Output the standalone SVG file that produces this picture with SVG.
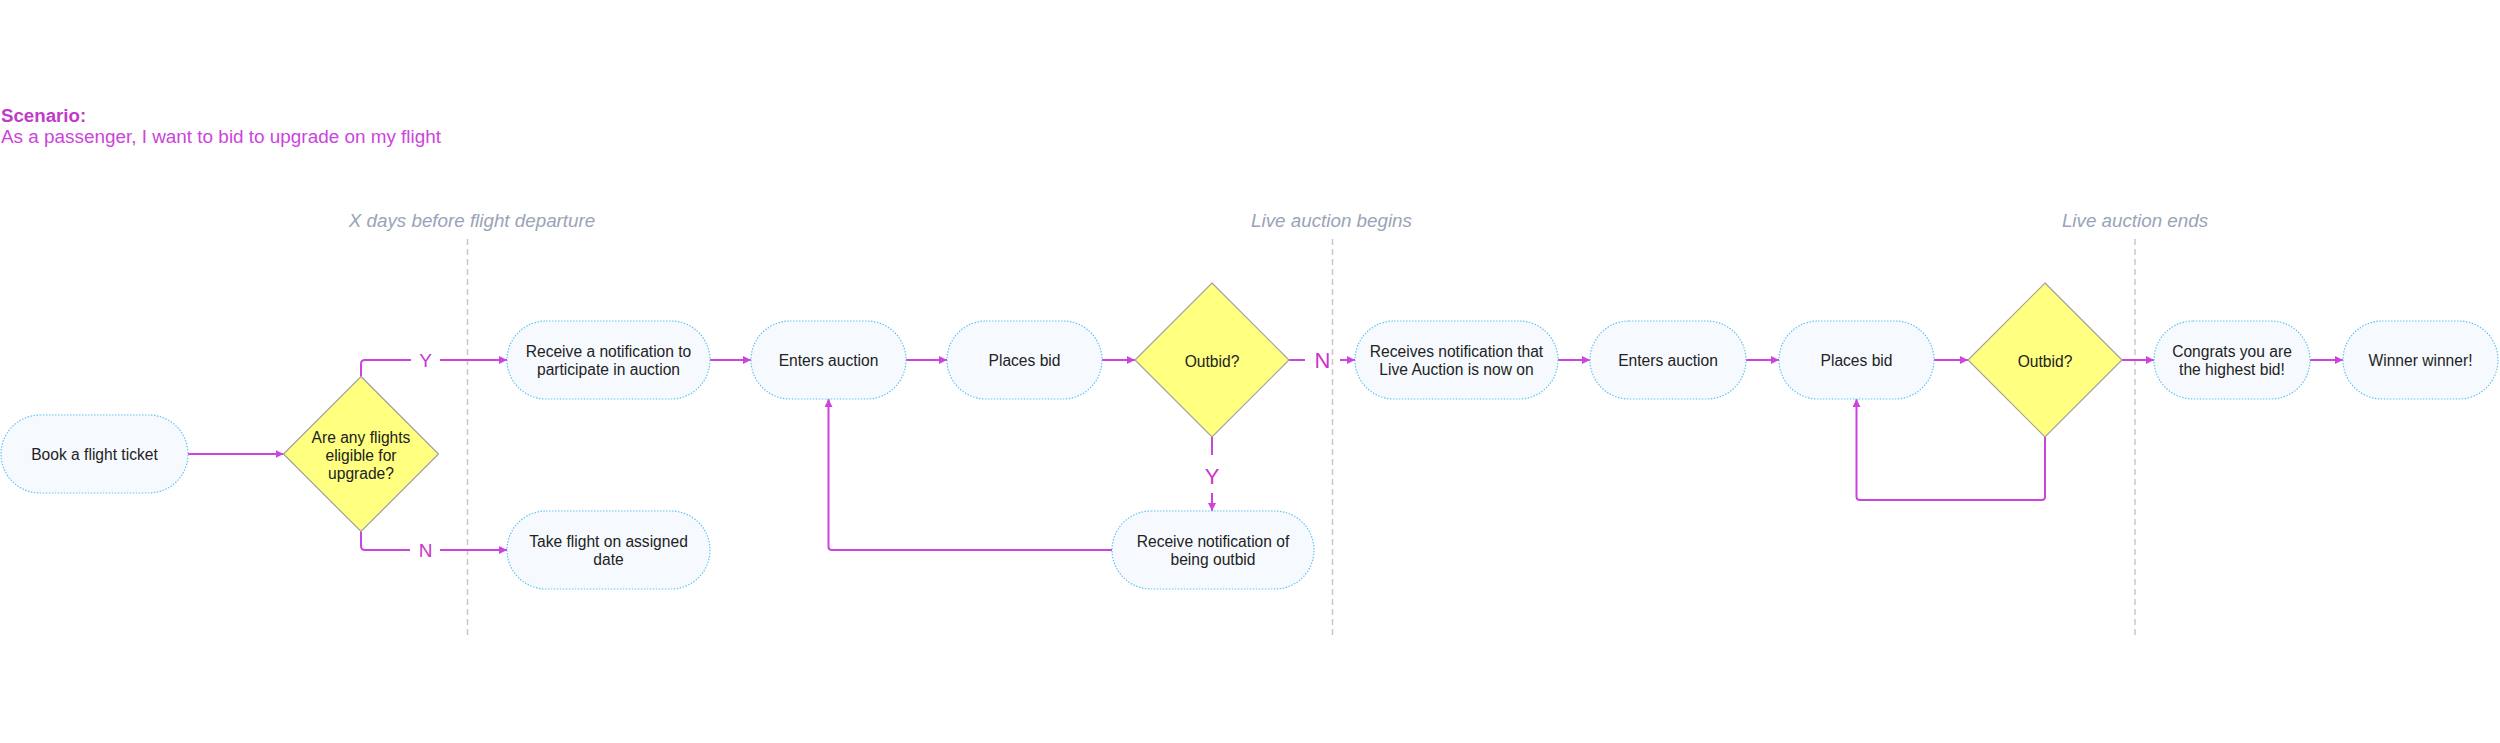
<svg xmlns="http://www.w3.org/2000/svg" width="2500" height="743" viewBox="0 0 2500 743">
<defs>
<style>
.node{fill:#f6fafe;stroke:#62c3f2;stroke-width:1.2;stroke-dasharray:1.5 1.5}
.dia{fill:#ffff80;stroke:#a0a0a0;stroke-width:1.2}
.t{font-family:"Liberation Sans",Arial,sans-serif;font-size:15.6px;fill:#222;text-anchor:middle}
.c{fill:none;stroke:#cc44dd;stroke-width:2}
.lbl{font-family:"Liberation Sans",Arial,sans-serif;fill:#cc33cc;text-anchor:middle}
.phase{font-family:"Liberation Sans",Arial,sans-serif;font-style:italic;font-size:18.8px;fill:#9aa3b8;text-anchor:middle}
.div{stroke:#c8c8c8;stroke-width:1.5;stroke-dasharray:6 4}
</style>
<marker id="ah" viewBox="0 0 8 8" refX="8" refY="4" markerWidth="8" markerHeight="8" markerUnits="userSpaceOnUse" orient="auto">
<path d="M0,0 L8,4 L0,8 z" fill="#cc44dd"/>
</marker>
</defs>
<rect width="2500" height="743" fill="#ffffff"/>

<g id="scenario">
<text x="1" y="122" font-family="Liberation Sans,Arial,sans-serif" font-size="18.7" font-weight="bold" fill="#c03cc8">Scenario:</text>
<text x="1" y="143.3" font-family="Liberation Sans,Arial,sans-serif" font-size="18.9" fill="#cc44dd">As a passenger, I want to bid to upgrade on my flight</text>
</g>

<g id="phases">
<line class="div" x1="467.5" y1="239" x2="467.5" y2="635"/>
<line class="div" x1="1332.5" y1="239" x2="1332.5" y2="635"/>
<line class="div" x1="2135" y1="239" x2="2135" y2="635"/>
<text class="phase" x="472" y="227">X days before flight departure</text>
<text class="phase" x="1331.5" y="227">Live auction begins</text>
<text class="phase" x="2135" y="227">Live auction ends</text>
</g>

<g id="connectors">
<path class="c" d="M188 454 H283.5" marker-end="url(#ah)"/>
<path class="c" d="M361 376.5 V364 Q361 360 365 360 H411"/>
<path class="c" d="M440 360 H507" marker-end="url(#ah)"/>
<path class="c" d="M361 531.5 V546 Q361 550 365 550 H410"/>
<path class="c" d="M440 550 H507" marker-end="url(#ah)"/>
<path class="c" d="M710 360 H751" marker-end="url(#ah)"/>
<path class="c" d="M906 360 H947" marker-end="url(#ah)"/>
<path class="c" d="M1102 360 H1135" marker-end="url(#ah)"/>
<path class="c" d="M1289 360 H1305"/>
<path class="c" d="M1340 360 H1355" marker-end="url(#ah)"/>
<path class="c" d="M1212 437 V455"/>
<path class="c" d="M1212 493 V511" marker-end="url(#ah)"/>
<path class="c" d="M1112 550 H832 Q828.5 550 828.5 546.5 V399" marker-end="url(#ah)"/>
<path class="c" d="M1558 360 H1590" marker-end="url(#ah)"/>
<path class="c" d="M1746 360 H1779" marker-end="url(#ah)"/>
<path class="c" d="M1934 360 H1968" marker-end="url(#ah)"/>
<path class="c" d="M2045 437 V496.5 Q2045 500 2041.5 500 H1860 Q1856.5 500 1856.5 496.5 V399" marker-end="url(#ah)"/>
<path class="c" d="M2122 360 H2154" marker-end="url(#ah)"/>
<path class="c" d="M2310 360 H2343" marker-end="url(#ah)"/>
<text class="lbl" x="425.5" y="367" font-size="19">Y</text>
<text class="lbl" x="425.5" y="557" font-size="19">N</text>
<text class="lbl" x="1322.5" y="368" font-size="22">N</text>
<text class="lbl" x="1212" y="483.5" font-size="22">Y</text>
</g>

<g id="book">
<rect class="node" x="1" y="415" width="187" height="78" rx="39"/>
<text class="t" x="94.5" y="459.5">Book a flight ticket</text>
</g>

<g id="eligible">
<path class="dia" d="M361 376.5 L438.5 454 L361 531.5 L283.5 454 Z"/>
<text class="t" x="361" y="443">Are any flights</text>
<text class="t" x="361" y="461">eligible for</text>
<text class="t" x="361" y="479">upgrade?</text>
</g>

<g id="receive-notification">
<rect class="node" x="507" y="321" width="203" height="78" rx="39"/>
<text class="t" x="608.5" y="356.7">Receive a notification to</text>
<text class="t" x="608.5" y="374.7">participate in auction</text>
</g>

<g id="take-flight">
<rect class="node" x="507" y="511" width="203" height="78" rx="39"/>
<text class="t" x="608.5" y="546.7">Take flight on assigned</text>
<text class="t" x="608.5" y="564.7">date</text>
</g>

<g id="enters-auction-1">
<rect class="node" x="751" y="321" width="155" height="78" rx="39"/>
<text class="t" x="828.5" y="365.5">Enters auction</text>
</g>

<g id="places-bid-1">
<rect class="node" x="947" y="321" width="155" height="78" rx="39"/>
<text class="t" x="1024.5" y="365.5">Places bid</text>
</g>

<g id="outbid-1">
<path class="dia" d="M1212 283 L1289 360 L1212 437 L1135 360 Z"/>
<text class="t" x="1212" y="367">Outbid?</text>
</g>

<g id="receive-outbid">
<rect class="node" x="1112" y="511" width="202" height="78" rx="39"/>
<text class="t" x="1213" y="546.7">Receive notification of</text>
<text class="t" x="1213" y="564.7">being outbid</text>
</g>

<g id="receives-live">
<rect class="node" x="1355" y="321" width="203" height="78" rx="39"/>
<text class="t" x="1456.5" y="356.7">Receives notification that</text>
<text class="t" x="1456.5" y="374.7">Live Auction is now on</text>
</g>

<g id="enters-auction-2">
<rect class="node" x="1590" y="321" width="156" height="78" rx="39"/>
<text class="t" x="1668" y="365.5">Enters auction</text>
</g>

<g id="places-bid-2">
<rect class="node" x="1779" y="321" width="155" height="78" rx="39"/>
<text class="t" x="1856.5" y="365.5">Places bid</text>
</g>

<g id="outbid-2">
<path class="dia" d="M2045 283 L2122 360 L2045 437 L1968 360 Z"/>
<text class="t" x="2045" y="367">Outbid?</text>
</g>

<g id="congrats">
<rect class="node" x="2154" y="321" width="156" height="78" rx="39"/>
<text class="t" x="2232" y="356.7">Congrats you are</text>
<text class="t" x="2232" y="374.7">the highest bid!</text>
</g>

<g id="winner">
<rect class="node" x="2343" y="321" width="155" height="78" rx="39"/>
<text class="t" x="2420.5" y="365.5">Winner winner!</text>
</g>
</svg>
